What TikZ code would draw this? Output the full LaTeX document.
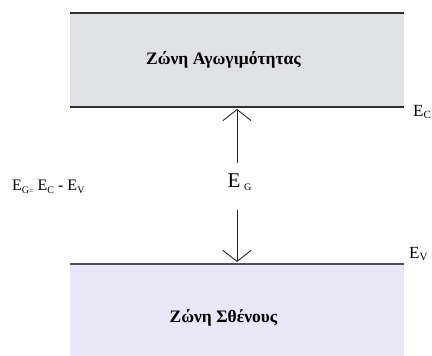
\documentclass[tikz,border=0pt]{standalone}
\usepackage{fontspec}
\setmainfont{Liberation Serif}
\usetikzlibrary{arrows.meta}
\definecolor{cbandfill}{HTML}{E0E1E5}
\definecolor{vbandfill}{HTML}{E9E6F8}
\definecolor{edgetop}{HTML}{2E2F31}
\definecolor{edgebot}{HTML}{4C5157}
\newcommand{\lowsub}[2]{\raisebox{-0.35ex}{\fontsize{#1}{#1}\selectfont #2}}
\tikzset{
  bandlabel/.style={font=\fontsize{17.5}{19}\selectfont\bfseries, inner sep=0pt},
  levellabel/.style={font=\fontsize{17}{18}\selectfont, inner sep=0pt, anchor=west},
  gaparrow/.style={line width=0.9pt, draw=black!85, -{Straight Barb[length=11pt,width=28pt,line width=0.9pt]}},
}
\begin{document}
\begin{tikzpicture}[x=1pt,y=-1pt]
\useasboundingbox (0,0) rectangle (432,356);
% conduction band
\fill[cbandfill] (70,13) rectangle (404,107);
\draw[edgetop, line width=2.6pt] (70,13) -- (404,13);
\draw[edgetop, line width=2.6pt] (70,107) -- (404,107);
% valence band
\fill[vbandfill] (70,264) rectangle (404,356);
\draw[edgebot, line width=2.2pt] (70,264) -- (404,264);
% band labels
\node[bandlabel] (cb) at (223.5,60) {Ζώνη Αγωγιμότητας};
\node[bandlabel] (vb) at (223.5,318) {Ζώνη Σθένους};
% level labels
\node[levellabel] (ec) at (413,112) {E\lowsub{11}{C}};
\node[levellabel] (ev) at (409,254) {E\lowsub{11}{V}};
% gap
\node[font=\fontsize{21}{21}\selectfont, inner sep=0pt] (eg) at (239.5,182) {E\,\lowsub{10}{G}};
\coordinate (egtop) at (237,163);
\coordinate (egbot) at (237,210);
\coordinate (ctip) at (237,109);
\coordinate (vtip) at (237,262);
\draw[gaparrow] (egtop) -- (ctip);
\draw[gaparrow] (egbot) -- (vtip);
% formula
\node[font=\fontsize{16}{17}\selectfont, inner sep=0pt, anchor=west] (formula) at (12,187)
  {E\lowsub{10}{G}\lowsub{8}{=} E\lowsub{10}{C} - E\lowsub{10}{V}};
\end{tikzpicture}
\end{document}
